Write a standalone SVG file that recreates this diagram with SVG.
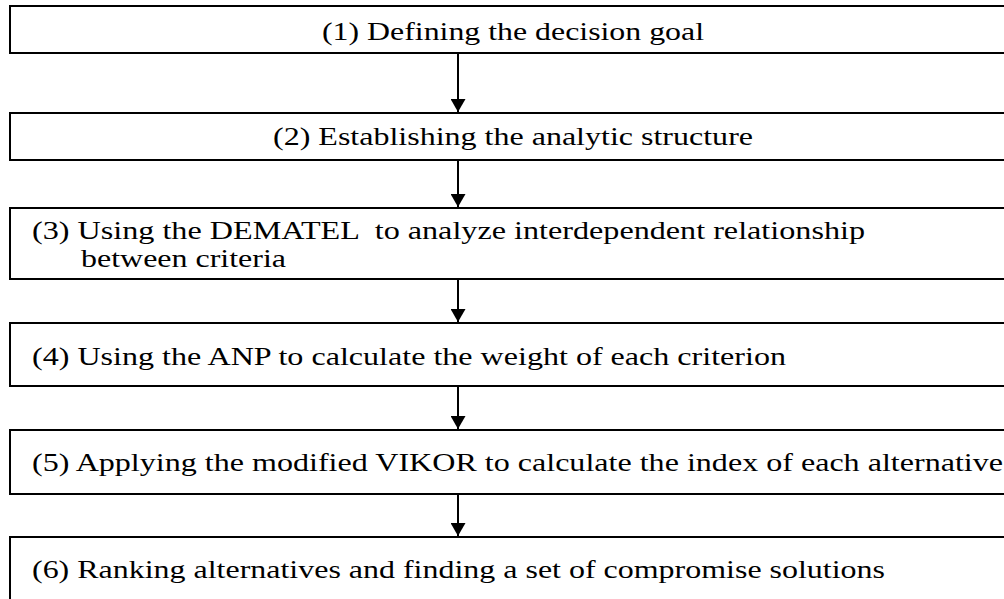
<svg xmlns="http://www.w3.org/2000/svg" width="1004" height="599" viewBox="0 0 1004 599">
  <style>
    .box { fill: #ffffff; stroke: #000000; stroke-width: 2; }
    .lbl { font-family: "Liberation Serif", "Times New Roman", serif; font-size: 26px; fill: #000000; white-space: pre; }
    .conn { stroke: #000000; stroke-width: 2; fill: none; marker-end: url(#arrow); }
  </style>
  <defs>
    <marker id="arrow" markerUnits="userSpaceOnUse" viewBox="0 0 13 15" refX="13" refY="7.5" markerWidth="13" markerHeight="15" orient="auto">
      <path d="M0,0 L13,7.5 L0,15 z" fill="#000000"/>
    </marker>
  </defs>
  <rect width="1004" height="599" fill="#ffffff"/>
  <g id="node1">
    <rect class="box" x="10" y="6" width="1010" height="47"/>
    <text class="lbl" x="322" y="40" textLength="382" lengthAdjust="spacingAndGlyphs">(1) Defining the decision goal</text>
  </g>
  <g id="node2">
    <rect class="box" x="10" y="113" width="1010" height="47"/>
    <text class="lbl" x="273" y="145" textLength="480" lengthAdjust="spacingAndGlyphs">(2) Establishing the analytic structure</text>
  </g>
  <g id="node3">
    <rect class="box" x="10" y="208" width="1010" height="71"/>
    <text class="lbl" x="32" y="239" textLength="833" lengthAdjust="spacingAndGlyphs">(3) Using the DEMATEL  to analyze interdependent relationship</text>
    <text class="lbl" x="81" y="267" textLength="205" lengthAdjust="spacingAndGlyphs">between criteria</text>
  </g>
  <g id="node4">
    <rect class="box" x="10" y="323" width="1010" height="63"/>
    <text class="lbl" x="32" y="365" textLength="754" lengthAdjust="spacingAndGlyphs">(4) Using the ANP to calculate the weight of each criterion</text>
  </g>
  <g id="node5">
    <rect class="box" x="10" y="430" width="1010" height="64"/>
    <text class="lbl" x="32" y="471" textLength="971" lengthAdjust="spacingAndGlyphs">(5) Applying the modified VIKOR to calculate the index of each alternative</text>
  </g>
  <g id="node6">
    <rect class="box" x="10" y="537" width="1010" height="80"/>
    <text class="lbl" x="32" y="578" textLength="853" lengthAdjust="spacingAndGlyphs">(6) Ranking alternatives and finding a set of compromise solutions</text>
  </g>
  <g id="connectors">
    <line class="conn" x1="458" y1="53" x2="458" y2="112"/>
    <line class="conn" x1="458" y1="160" x2="458" y2="207"/>
    <line class="conn" x1="458" y1="279" x2="458" y2="322"/>
    <line class="conn" x1="458" y1="386" x2="458" y2="429"/>
    <line class="conn" x1="458" y1="494" x2="458" y2="536"/>
  </g>
</svg>
